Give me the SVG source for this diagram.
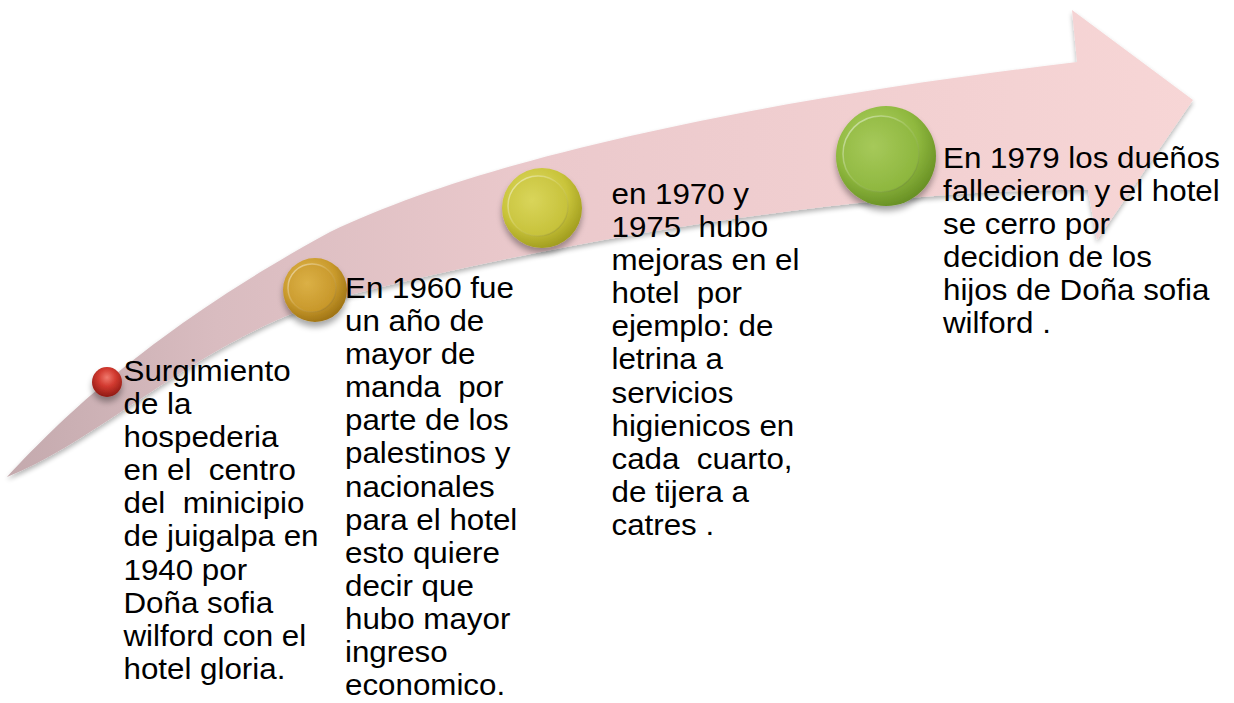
<svg xmlns="http://www.w3.org/2000/svg" width="1234" height="703" viewBox="0 0 1234 703">
<defs>
<linearGradient id="arrowFill" gradientUnits="userSpaceOnUse" x1="0" y1="0" x2="1200" y2="0">
<stop offset="0" stop-color="#c3a9ad"/>
<stop offset="0.18" stop-color="#d9bcc0"/>
<stop offset="0.45" stop-color="#ebc9cc"/>
<stop offset="0.8" stop-color="#f3d1d2"/>
<stop offset="1" stop-color="#f7d6d6"/>
</linearGradient>
<filter id="arrowShadow" x="-5%" y="-10%" width="110%" height="125%">
<feGaussianBlur in="SourceAlpha" stdDeviation="2.5"/>
<feOffset dx="0" dy="3" result="b"/>
<feComponentTransfer><feFuncA type="linear" slope="0.3"/></feComponentTransfer>
<feMerge><feMergeNode/><feMergeNode in="SourceGraphic"/></feMerge>
</filter>
<filter id="beadShadow" x="-30%" y="-30%" width="160%" height="170%">
<feGaussianBlur in="SourceAlpha" stdDeviation="3"/>
<feOffset dx="0" dy="5" result="b"/>
<feComponentTransfer><feFuncA type="linear" slope="0.35"/></feComponentTransfer>
<feMerge><feMergeNode/><feMergeNode in="SourceGraphic"/></feMerge>
</filter>
<radialGradient id="redBall" cx="0.5" cy="0.35" r="0.65">
<stop offset="0" stop-color="#f07a6e"/>
<stop offset="0.45" stop-color="#d23a30"/>
<stop offset="1" stop-color="#8e1a14"/>
</radialGradient>
<radialGradient id="goldOuter" cx="0.4" cy="0.35" r="0.7">
<stop offset="0" stop-color="#e6bd55"/>
<stop offset="0.6" stop-color="#c99a2c"/>
<stop offset="1" stop-color="#9a6f12"/>
</radialGradient>
<radialGradient id="goldInner" cx="0.4" cy="0.4" r="0.7">
<stop offset="0" stop-color="#dbb046"/>
<stop offset="1" stop-color="#c59426"/>
</radialGradient>
<radialGradient id="yelOuter" cx="0.4" cy="0.35" r="0.7">
<stop offset="0" stop-color="#e0dc6a"/>
<stop offset="0.6" stop-color="#c9c43a"/>
<stop offset="1" stop-color="#9c981c"/>
</radialGradient>
<radialGradient id="yelInner" cx="0.4" cy="0.4" r="0.7">
<stop offset="0" stop-color="#d9d55a"/>
<stop offset="1" stop-color="#c4bf36"/>
</radialGradient>
<radialGradient id="grnOuter" cx="0.4" cy="0.35" r="0.7">
<stop offset="0" stop-color="#b3d46a"/>
<stop offset="0.6" stop-color="#8fb83e"/>
<stop offset="1" stop-color="#648c22"/>
</radialGradient>
<radialGradient id="grnInner" cx="0.4" cy="0.4" r="0.7">
<stop offset="0" stop-color="#a6c95a"/>
<stop offset="1" stop-color="#8ab43a"/>
</radialGradient>
<linearGradient id="rim" x1="0" y1="0" x2="1" y2="1">
<stop offset="0" stop-color="#ffffff" stop-opacity="0.55"/>
<stop offset="0.5" stop-color="#ffffff" stop-opacity="0.1"/>
<stop offset="1" stop-color="#000000" stop-opacity="0.15"/>
</linearGradient>
<style>
.txt{font-family:"Liberation Sans",Arial,sans-serif;font-size:29px;fill:#000;white-space:pre}
.rim{fill:none;stroke:url(#rim);stroke-width:1.5}
</style>
</defs>

<g id="connectors">
<path id="timeline-arrow" filter="url(#arrowShadow)" fill="url(#arrowFill)" d="M7,477 C60,420 150,330 330,232 C500,150 800,95 1077,62 L1072,10 L1193,100 L1097,240 L1088,190 C900,188 600,230 330,300 C200,340 100,440 7,477 Z"/>
</g>

<g id="node-1940">
<g filter="url(#beadShadow)">
<circle cx="107" cy="382" r="15" fill="url(#redBall)"/>
</g>
<text class="txt" transform="translate(123.5,381) scale(1.08,1)"><tspan x="0" y="0">Surgimiento</tspan><tspan x="0" y="33.1">de la</tspan><tspan x="0" y="66.2">hospederia</tspan><tspan x="0" y="99.3">en el  centro</tspan><tspan x="0" y="132.4">del  minicipio</tspan><tspan x="0" y="165.5">de juigalpa en</tspan><tspan x="0" y="198.6">1940 por</tspan><tspan x="0" y="231.7">Doña sofia</tspan><tspan x="0" y="264.8">wilford con el</tspan><tspan x="0" y="297.9">hotel gloria.</tspan></text>
</g>

<g id="node-1960">
<g filter="url(#beadShadow)">
<circle cx="315" cy="290" r="32" fill="url(#goldOuter)"/>
<circle cx="312" cy="288" r="24" fill="url(#goldInner)"/>
<circle cx="312" cy="288" r="24" class="rim"/>
</g>
<text class="txt" transform="translate(345,298) scale(1.08,1)"><tspan x="0" y="0">En 1960 fue</tspan><tspan x="0" y="33.1">un año de</tspan><tspan x="0" y="66.2">mayor de</tspan><tspan x="0" y="99.3">manda  por</tspan><tspan x="0" y="132.4">parte de los</tspan><tspan x="0" y="165.5">palestinos y</tspan><tspan x="0" y="198.6">nacionales</tspan><tspan x="0" y="231.7">para el hotel</tspan><tspan x="0" y="264.8">esto quiere</tspan><tspan x="0" y="297.9">decir que</tspan><tspan x="0" y="331">hubo mayor</tspan><tspan x="0" y="364.1">ingreso</tspan><tspan x="0" y="397.2">economico.</tspan></text>
</g>

<g id="node-1970">
<g filter="url(#beadShadow)">
<circle cx="542" cy="208" r="40" fill="url(#yelOuter)"/>
<circle cx="538" cy="206" r="30" fill="url(#yelInner)"/>
<circle cx="538" cy="206" r="30" class="rim"/>
</g>
<text class="txt" transform="translate(611.5,204) scale(1.08,1)"><tspan x="0" y="0">en 1970 y</tspan><tspan x="0" y="33.1">1975  hubo</tspan><tspan x="0" y="66.2">mejoras en el</tspan><tspan x="0" y="99.3">hotel  por</tspan><tspan x="0" y="132.4">ejemplo: de</tspan><tspan x="0" y="165.5">letrina a</tspan><tspan x="0" y="198.6">servicios</tspan><tspan x="0" y="231.7">higienicos en</tspan><tspan x="0" y="264.8">cada  cuarto,</tspan><tspan x="0" y="297.9">de tijera a</tspan><tspan x="0" y="331">catres .</tspan></text>
</g>

<g id="node-1979">
<g filter="url(#beadShadow)">
<circle cx="886" cy="156" r="50" fill="url(#grnOuter)"/>
<circle cx="881" cy="154" r="38" fill="url(#grnInner)"/>
<circle cx="881" cy="154" r="38" class="rim"/>
</g>
<text class="txt" transform="translate(943,168) scale(1.08,1)"><tspan x="0" y="0">En 1979 los dueños</tspan><tspan x="0" y="33.1">fallecieron y el hotel</tspan><tspan x="0" y="66.2">se cerro por</tspan><tspan x="0" y="99.3">decidion de los</tspan><tspan x="0" y="132.4">hijos de Doña sofia</tspan><tspan x="0" y="165.5">wilford .</tspan></text>
</g>
</svg>
